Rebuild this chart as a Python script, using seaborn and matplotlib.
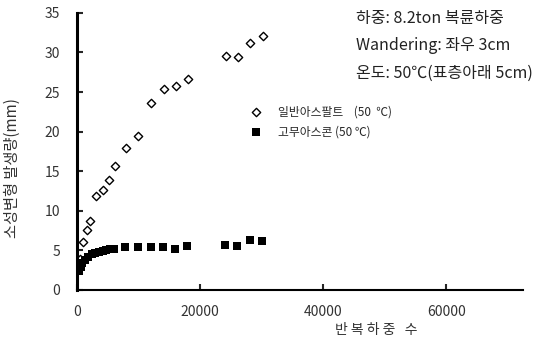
import matplotlib
matplotlib.use('Agg')
import matplotlib.pyplot as plt
import seaborn as sns

# data
asphalt_x = [540, 970, 1620, 2060, 3030, 4170, 5190, 6160, 8050, 10000, 12100,
             14100, 16100, 18100, 24200, 26100, 28200, 30200]
asphalt_y = [3.9, 6.0, 7.6, 8.7, 11.8, 12.6, 13.9, 15.6, 17.9, 19.5, 23.6,
             25.4, 25.7, 26.6, 29.5, 29.4, 31.2, 32.1]

rubber_x = [300, 600, 900, 1300, 1800, 2400, 3000, 3600, 4200, 4800, 5400, 6000,
            7900, 9950, 12000, 14000, 16000, 17950, 24000, 25950, 28050, 30000]
rubber_y = [2.4, 2.9, 3.4, 3.8, 4.2, 4.5, 4.6, 4.8, 4.9, 5.0, 5.1, 5.2,
            5.4, 5.4, 5.4, 5.4, 5.2, 5.6, 5.7, 5.5, 6.3, 6.2]

x_ticks = [0, 20000, 40000, 60000]
y_ticks = [0, 5, 10, 15, 20, 25, 30, 35]

sns.set_style('white')
plt.rcParams['font.family'] = ['Noto Sans CJK KR', 'DejaVu Sans']

fig = plt.figure(figsize=(5.49, 3.39), dpi=100)
ax = fig.add_axes([0.140, 0.145, 0.813, 0.817])

sns.scatterplot(x=asphalt_x, y=asphalt_y, marker='D', s=18, facecolor='white',
                edgecolor='black', linewidth=1.0, ax=ax,
                label='일반아스팔트    (50  ℃)')
sns.scatterplot(x=rubber_x, y=rubber_y, marker='s', s=36, color='black',
                edgecolor='black', linewidth=0, ax=ax,
                label='고무아스콘 (50 ℃)')

ax.set_xlim(0, 72500)
ax.set_ylim(0, 35)
ax.set_xticks(x_ticks)
ax.set_yticks(y_ticks)
ax.tick_params(axis='both', direction='in', length=4, width=1.5,
               bottom=True, left=True, labelsize=10, labelcolor='#333333')
ax.tick_params(axis='y', pad=12)
ax.tick_params(axis='x', pad=11)
for s in ['top', 'right']:
    ax.spines[s].set_visible(False)
ax.spines['left'].set_linewidth(2.2)
ax.spines['bottom'].set_linewidth(1.5)
ax.spines['left'].set_color('black')
ax.spines['bottom'].set_color('black')

ax.set_xlabel('반 복 하 중   수', fontsize=10, color='#333333')
ax.xaxis.set_label_coords(0.67, -0.12)
ax.set_ylabel('소성변형 발생량(mm)', fontsize=11, color='#333333')
ax.yaxis.set_label_coords(-0.125, 0.44)

ax.legend(loc='upper left', bbox_to_anchor=(0.35, 0.705), frameon=False,
          fontsize=8.5, handletextpad=0.9, labelspacing=0.6, markerscale=1.0)

notes = ['하중: 8.2ton 복륜하중', 'Wandering: 좌우 3cm', '온도: 50℃(표층아래 5cm)']
for i, t in enumerate(notes):
    fig.text(0.648, 0.945 - i * 0.08, t, fontsize=11.5, color='#222222',
             va='center', ha='left')

plt.savefig('out.png', dpi=100)
